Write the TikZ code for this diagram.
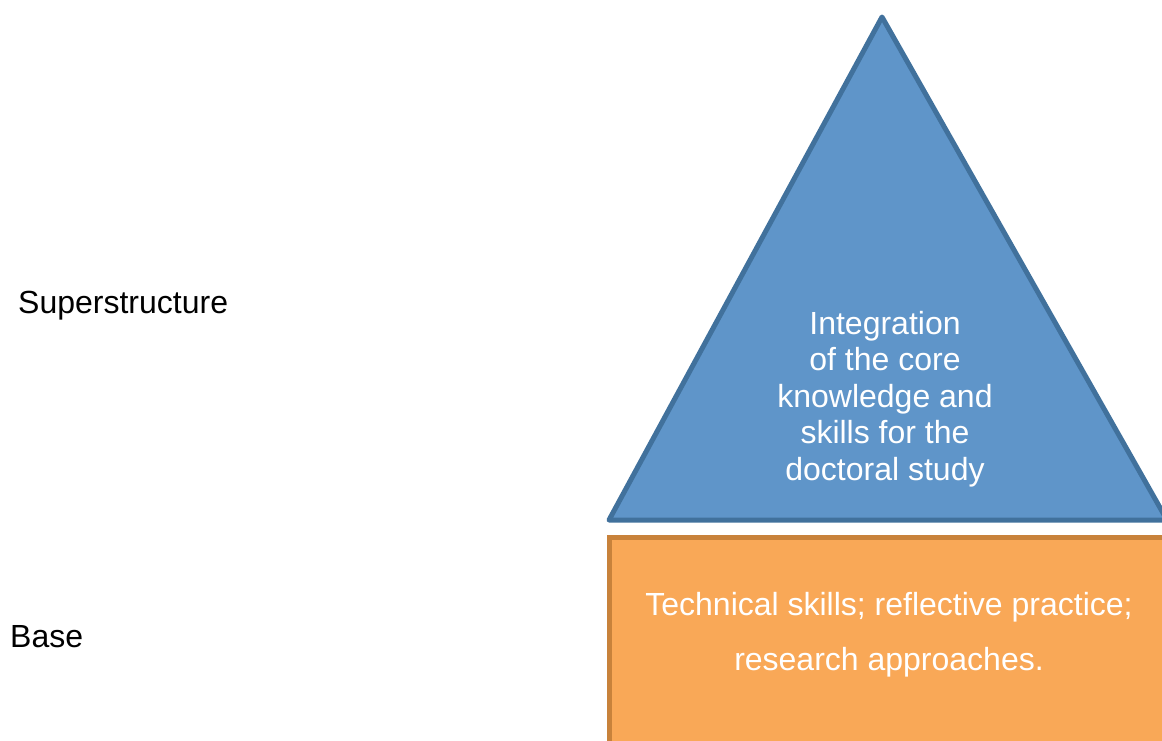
\documentclass[tikz,border=0pt]{standalone}
\usepackage{fontspec}
\setmainfont{Liberation Sans}
\definecolor{trifill}{HTML}{5F95C9}
\definecolor{tristroke}{HTML}{41719C}
\definecolor{basefill}{HTML}{F9A857}
\definecolor{basestroke}{HTML}{C8823B}
\tikzset{
  lbl/.style={font=\fontsize{32}{36.5}\selectfont, inner sep=0pt},
  wtext/.style={lbl, text=white, align=center},
}
\begin{document}
\begin{tikzpicture}[x=1pt,y=-1pt]
\useasboundingbox (0,0) rectangle (1162,740);
\begin{scope}
\clip (0,0) rectangle (1162,740);
\draw[line width=5pt, line join=round, fill=trifill, draw=tristroke] (882,17) -- (1167,520) -- (609,520) -- cycle;
\draw[line width=5pt, fill=basefill, draw=basestroke] (609,537) rectangle (1180,760);
\end{scope}
\node[wtext] (tri) at (885,399) {Integration\\of the core\\knowledge and\\skills for the\\doctoral study};
\node[wtext, font=\fontsize{32}{55}\selectfont] (base) at (889,635) {Technical skills; reflective practice;\\research approaches.};
\node[lbl, anchor=west] (sup) at (18,306) {Superstructure};
\node[lbl, anchor=west] (bas) at (10,637) {Base};
\end{tikzpicture}
\end{document}
